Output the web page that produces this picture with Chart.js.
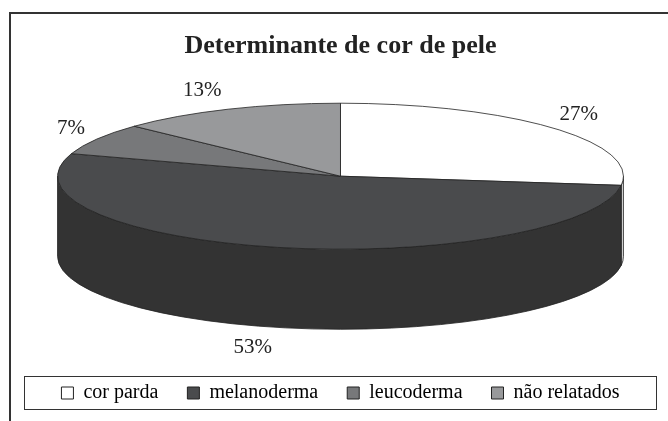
<!DOCTYPE html>
<html>
<head>
<meta charset="utf-8">
<script src="https://cdn.jsdelivr.net/npm/chart.js@4"></script>
<style>
  body { margin: 0; background: #fff; }
  #wrap { width: 668px; height: 421px; }
</style>
</head>
<body>
<div id="wrap"><canvas id="grafico"></canvas></div>
<script>
const categorias = ['cor parda', 'melanoderma', 'leucoderma', 'não relatados'];
const percentuais = [27, 53, 7, 13];
const coresTopo = ['#ffffff', '#4a4b4d', '#77787a', '#98999b'];
const coresLado = ['#d9d9d9', '#333333', '#5a5b5d', '#747577'];

const fonte = "'Liberation Serif', 'Times New Roman', serif";

// desenha a pizza "3D" a partir dos arcos que o chart.js calcula
const pizza3d = {
  id: 'pizza3d',
  beforeDraw(chart) {
    const ctx = chart.ctx;
    ctx.save();
    ctx.strokeStyle = '#333';
    ctx.lineWidth = 2;
    ctx.strokeRect(10, 13, 700, 500); // moldura
    ctx.restore();
  },
  beforeDatasetsDraw(chart) {
    const ctx = chart.ctx, ca = chart.chartArea;
    const meta = chart.getDatasetMeta(0);
    const a = (ca.right - ca.left) / 2 * 0.894;
    const b = a * 0.258, prof = a * 0.283;
    const cx = (ca.left + ca.right) / 2;
    const cy = ca.top + 104;

    // lados
    meta.data.forEach((arc, i) => {
      const s = Math.max(arc.startAngle, 0), e = Math.min(arc.endAngle, Math.PI);
      if (e <= s) return;
      ctx.beginPath();
      ctx.ellipse(cx, cy, a, b, 0, s, e);
      ctx.ellipse(cx, cy + prof, a, b, 0, e, s, true);
      ctx.closePath();
      ctx.fillStyle = coresLado[i];
      ctx.fill();
      ctx.strokeStyle = '#222';
      ctx.lineWidth = 0.8;
      ctx.stroke();
    });

    // topo
    meta.data.forEach((arc) => {
      const r = arc.outerRadius;
      ctx.save();
      ctx.translate(cx, cy);
      ctx.scale(a / r, b / r);
      ctx.translate(-arc.x, -arc.y);
      arc.draw(ctx);
      ctx.beginPath();
      ctx.moveTo(arc.x, arc.y);
      ctx.arc(arc.x, arc.y, r, arc.startAngle, arc.endAngle);
      ctx.closePath();
      ctx.restore();
      ctx.strokeStyle = '#222';
      ctx.lineWidth = 0.8;
      ctx.stroke();
    });

    // rotulos
    ctx.save();
    ctx.font = '21px ' + fonte;
    ctx.fillStyle = '#222';
    ctx.textAlign = 'center';
    ctx.textBaseline = 'middle';
    meta.data.forEach((arc, i) => {
      const m = (arc.startAngle + arc.endAngle) / 2;
      const c = Math.cos(m), sn = Math.sin(m);
      const x = cx + a * c + 26 * Math.sign(c);
      const y = cy + (b + 20) * sn + (sn > 0 ? prof : 0);
      ctx.fillText(percentuais[i] + '%', x, y);
    });
    ctx.restore();
    return false;
  },
  afterDraw(chart) {
    const L = chart.legend, hb = L.legendHitBoxes;
    if (!hb.length) return;
    const ctx = chart.ctx;
    ctx.save();
    ctx.strokeStyle = '#333';
    ctx.lineWidth = 1;
    const meio = hb[0].top + hb[0].height / 2;
    ctx.strokeRect(Math.round(L.left) + 0.5, Math.round(meio - 17) + 0.5, Math.round(L.right - L.left) - 1, 33);
    ctx.restore();
  }
};

new Chart(document.getElementById('grafico'), {
  type: 'pie',
  data: {
    labels: categorias,
    datasets: [{
      data: percentuais,
      backgroundColor: coresTopo,
      borderWidth: 0,
      hoverOffset: 0
    }]
  },
  plugins: [pizza3d],
  options: {
    responsive: true,
    maintainAspectRatio: false,
    animation: false,
    events: [],
    layout: { padding: { left: 24, right: 11, top: 31, bottom: 8 } },
    plugins: {
      tooltip: { enabled: false },
      title: {
        display: true,
        text: 'Determinante de cor de pele',
        color: '#222',
        font: { family: fonte, size: 26, weight: 'bold' },
        padding: { top: 0, bottom: 10 }
      },
      legend: {
        position: 'bottom',
        labels: {
          color: '#222',
          font: { family: fonte, size: 20 },
          boxWidth: 12,
          boxHeight: 12,
          padding: 29,
          generateLabels(chart) {
            return categorias.map((nome, i) => ({
              text: nome,
              fillStyle: coresTopo[i],
              strokeStyle: '#222',
              lineWidth: 1,
              index: i
            }));
          }
        }
      }
    }
  }
});
</script>
</body>
</html>
